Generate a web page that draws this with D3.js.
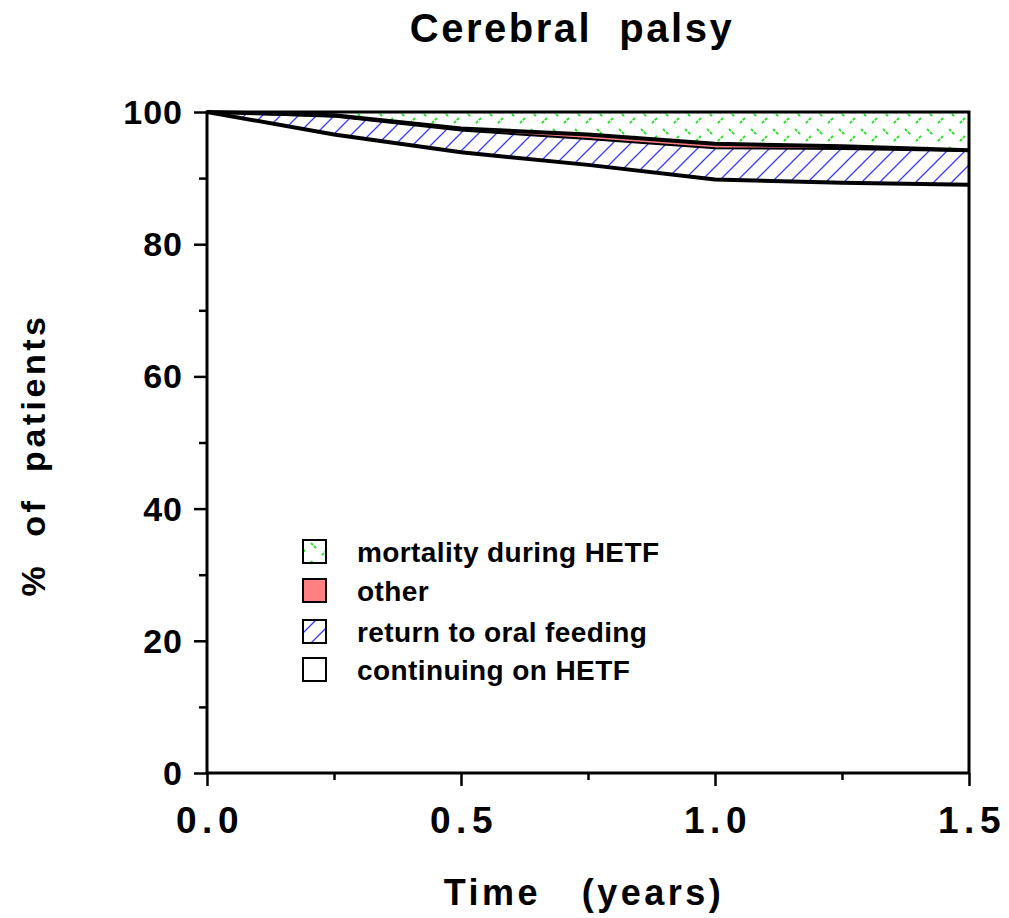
<!DOCTYPE html>
<html>
<head>
<meta charset="utf-8">
<script src="https://cdn.jsdelivr.net/npm/d3@7/dist/d3.min.js"></script>
<style>
  html, body { margin: 0; padding: 0; background: #fff; }
  svg { display: block; }
  text { font-family: "Liberation Sans", Arial, Helvetica, sans-serif; font-weight: bold; fill: #000; }
</style>
</head>
<body>
<svg id="chart" width="1009" height="918"></svg>
<script>
// ---- data (percent of patients) ----
const times       = [0, 0.25, 0.5, 0.75, 1.0, 1.25, 1.5];
const continuing  = [100, 96.6, 93.9, 92.0, 89.8, 89.3, 89.0];
const returnOral  = [0, 2.7, 3.3, 3.9, 4.7, 5.1, 5.1];
const other       = [0, 0.2, 0.3, 0.7, 0.7, 0.4, 0.1];
const mortality   = [0, 0.5, 2.5, 3.4, 4.8, 5.2, 5.8];
const seriesKeys  = ["continuing", "returnOral", "other", "mortality"];
const legendLabels = ["mortality during HETF", "other", "return to oral feeding", "continuing on HETF"];
const legendKeys   = ["mortality", "other", "returnOral", "continuing"];
const xTickValues = [0, 0.5, 1.0, 1.5];
const xTickLabels = ["0.0", "0.5", "1.0", "1.5"];
const xMinorTicks = [0.25, 0.75, 1.25];
const yTickValues = [0, 20, 40, 60, 80, 100];
const yMinorTicks = [10, 30, 50, 70, 90];

const table = times.map((t, i) => ({
  t, continuing: continuing[i], returnOral: returnOral[i], other: other[i], mortality: mortality[i]
}));

const svg = d3.select("#chart");
const L = 207, R = 969, T = 112, B = 773;
const x = d3.scaleLinear().domain([0, 1.5]).range([L, R]);
const y = d3.scaleLinear().domain([0, 100]).range([B, T]);

// patterns
const defs = svg.append("defs");
const bp = defs.append("pattern").attr("id", "blueHatch").attr("patternUnits", "userSpaceOnUse")
  .attr("width", 18).attr("height", 18);
bp.append("rect").attr("width", 18).attr("height", 18).attr("fill", "#fff");
bp.append("path").attr("d", "M0,18 L18,0 M-5,5 L5,-5 M13,23 L23,13")
  .attr("stroke", "#3a3aff").attr("stroke-width", 1.3);
const gp = defs.append("pattern").attr("id", "greenHatch").attr("patternUnits", "userSpaceOnUse")
  .attr("width", 22).attr("height", 18);
gp.append("rect").attr("width", 22).attr("height", 18).attr("fill", "#fff");
gp.append("path").attr("d", "M3,3 L9,9 M19,10 L13,16")
  .attr("stroke", "#2ee02e").attr("stroke-width", 2).attr("stroke-dasharray", "3,1.2");

const fills = {
  continuing: "#ffffff",
  returnOral: "url(#blueHatch)",
  other: "#ff8080",
  mortality: "url(#greenHatch)"
};

const stack = d3.stack().keys(seriesKeys);
const stacked = stack(table);

const area = d3.area().x(d => x(d.data.t)).y0(d => y(d[0])).y1(d => y(d[1]));
svg.append("g").selectAll("path").data(stacked).join("path")
  .attr("d", area).attr("fill", d => fills[d.key]).attr("stroke", "none");

// boundary lines
const topLine = d3.line().x(d => x(d.data.t)).y(d => y(d[1]));
const lineWidths = { continuing: 4, returnOral: 2, other: 4 };
stacked.filter(s => s.key !== "mortality").forEach(s => {
  svg.append("path").attr("d", topLine(s)).attr("fill", "none")
    .attr("stroke", "#000").attr("stroke-width", lineWidths[s.key]).attr("stroke-linejoin", "round");
});

// frame
svg.append("rect").attr("x", L).attr("y", T).attr("width", R - L).attr("height", B - T)
  .attr("fill", "none").attr("stroke", "#000").attr("stroke-width", 3);

// axes via d3
const xAxis = d3.axisBottom(x).tickValues(xTickValues).tickSize(13).tickFormat("");
const xMinor = d3.axisBottom(x).tickValues(xMinorTicks).tickSize(7).tickFormat("");
const yAxis = d3.axisLeft(y).tickValues(yTickValues).tickSize(13).tickFormat("");
const yMinor = d3.axisLeft(y).tickValues(yMinorTicks).tickSize(8).tickFormat("");
[[xAxis, `translate(0,${B})`], [xMinor, `translate(0,${B})`], [yAxis, `translate(${L},0)`], [yMinor, `translate(${L},0)`]]
  .forEach(([ax, tr]) => {
    const g = svg.append("g").attr("transform", tr).call(ax);
    g.select(".domain").remove();
    g.selectAll("line").attr("stroke", "#000").attr("stroke-width", 2.5);
  });

// tick labels
svg.append("g").selectAll("text").data(xTickValues).join("text")
  .attr("x", d => x(d) + 3).attr("y", 833).attr("text-anchor", "middle")
  .attr("font-size", 37).attr("letter-spacing", 5.5)
  .text((d, i) => xTickLabels[i]);
svg.append("g").selectAll("text").data(yTickValues).join("text")
  .attr("x", 183).attr("y", d => y(d) + 12).attr("text-anchor", "end")
  .attr("font-size", 34).attr("letter-spacing", 1)
  .text(d => d);

// title & axis labels
svg.append("text").attr("x", 572).attr("y", 42).attr("text-anchor", "middle")
  .attr("font-size", 40).attr("letter-spacing", 2.5).attr("xml:space", "preserve").text("Cerebral  palsy");
svg.append("text").attr("x", 584).attr("y", 905).attr("text-anchor", "middle")
  .attr("font-size", 36).attr("letter-spacing", 3.5).attr("xml:space", "preserve").text("Time   (years)");
svg.append("text").attr("transform", "translate(45,455) rotate(-90)").attr("text-anchor", "middle")
  .attr("font-size", 34).attr("letter-spacing", 3.5).attr("xml:space", "preserve").text("%  of  patients");

// legend
const legendY = [540, 579, 620, 658];
const lg = svg.append("g");
legendKeys.forEach((k, i) => {
  lg.append("rect").attr("x", 303).attr("y", legendY[i]).attr("width", 23).attr("height", 23)
    .attr("fill", fills[k]).attr("stroke", "#000").attr("stroke-width", 2);
  lg.append("text").attr("x", 357).attr("y", legendY[i] + 22)
    .attr("font-size", 28).attr("letter-spacing", 0.4).text(legendLabels[i]);
});
</script>
</body>
</html>
